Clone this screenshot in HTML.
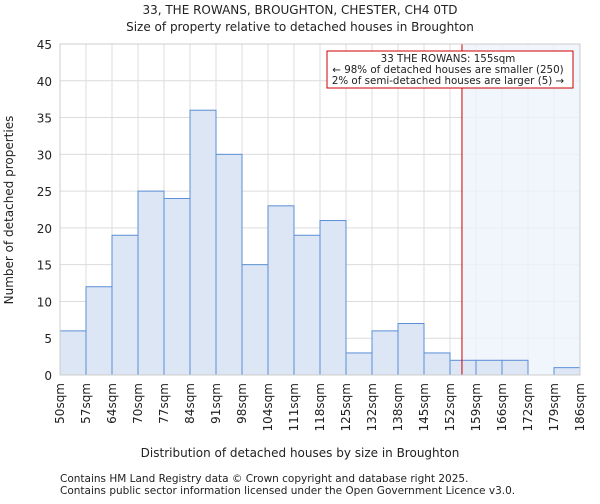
<!DOCTYPE html>
<html><head><meta charset="utf-8"><style>
body{margin:0;background:#fff;font-family:"DejaVu Sans","Liberation Sans",sans-serif;}
svg text{font-family:"DejaVu Sans","Liberation Sans",sans-serif;fill:#222;}
</style></head><body>
<svg id="chart" width="600" height="500" xmlns="http://www.w3.org/2000/svg">
<text x="300" y="14" text-anchor="middle" font-size="12">33, THE ROWANS, BROUGHTON, CHESTER, CH4 0TD</text>
<text x="300" y="31" text-anchor="middle" font-size="12">Size of property relative to detached houses in Broughton</text>
<g id="grid"></g><g id="shade"></g><g id="bars"></g><g id="axes"></g>
<text x="300" y="457" text-anchor="middle" font-size="12">Distribution of detached houses by size in Broughton</text>
<text transform="translate(13,210) rotate(-90)" text-anchor="middle" font-size="12">Number of detached properties</text>
<text x="60" y="482" font-size="10.5">Contains HM Land Registry data © Crown copyright and database right 2025.</text>
<text x="60" y="494" font-size="10.5">Contains public sector information licensed under the Open Government Licence v3.0.</text>
<g>
<rect x="327" y="51" width="246" height="37" fill="#fff" stroke="#cc0000" stroke-width="1"/>
<text x="448" y="62" text-anchor="middle" font-size="10.3">33 THE ROWANS: 155sqm</text>
<text x="448" y="73" text-anchor="middle" font-size="10.3">← 98% of detached houses are smaller (250)</text>
<text x="448" y="84" text-anchor="middle" font-size="10.3">2% of semi-detached houses are larger (5) →</text>
</g>
</svg>
<script>
const categories=["50sqm","57sqm","64sqm","70sqm","77sqm","84sqm","91sqm","98sqm","104sqm","111sqm","118sqm","125sqm","132sqm","138sqm","145sqm","152sqm","159sqm","166sqm","172sqm","179sqm","186sqm"];
const counts=[6,12,19,25,24,36,30,15,23,19,21,3,6,7,3,2,2,2,0,1];
const yTicks=[0,5,10,15,20,25,30,35,40,45];
const markerBin=15.46;
const NS="http://www.w3.org/2000/svg";
const L=60,R=580,T=44,B=375,yMax=45;
const bw=(R-L)/counts.length;
const xs=i=>L+i*bw;
const ys=v=>B-(v/yMax)*(B-T);
function mk(tag,at,parent){const e=document.createElementNS(NS,tag);for(const k in at)e.setAttribute(k,at[k]);document.getElementById(parent).appendChild(e);return e;}
yTicks.forEach(t=>{
 const g=mk('line',{x1:L,x2:R,y1:ys(t),y2:ys(t),stroke:'#dcdcdc','stroke-width':1},'grid');
 
 
 const tx=mk('text',{x:L-8,y:ys(t)+5,'text-anchor':'end','font-size':12},'axes');tx.textContent=t;
 
 
});
categories.forEach((c,i)=>{
 const g=mk('line',{x1:xs(i),x2:xs(i),y1:T,y2:B,stroke:'#dcdcdc','stroke-width':1},'grid');
 
 
 const x=xs(i);
 const tx=mk('text',{transform:`translate(${x+4},${B+8}) rotate(-90)`,'text-anchor':'end','font-size':12},'axes');tx.textContent=c;
 
 
});
const sx=xs(markerBin);
const sh=mk('rect',{x:sx,y:T,width:R-sx,height:B-T,fill:'#eef2fb',opacity:0.8},'shade');


counts.forEach((v,i)=>{
 const r=mk('rect',{x:xs(i),y:ys(v),width:bw,height:B-ys(v),fill:'#dce6f4',stroke:'#5b8fd6','stroke-width':1},'bars');
 
 
});
const ml=mk('line',{x1:sx,x2:sx,y1:T,y2:B,stroke:'#cc0000','stroke-width':1},'axes');


const ax=mk('rect',{x:L,y:T,width:R-L,height:B-T,fill:'none',stroke:'#ccc','stroke-width':1},'axes');


</script>
</body></html>
